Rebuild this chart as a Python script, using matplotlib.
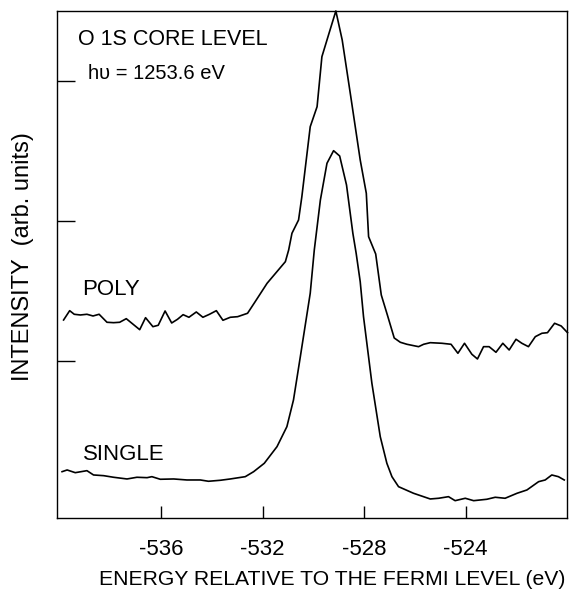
import matplotlib.pyplot as plt

# O 1s core level XPS spectra
poly_energy = [-539.84, -539.60, -539.42, -539.18, -538.92, -538.68, -538.44, -538.13,
               -537.87, -537.63, -537.37, -537.10, -536.84, -536.61, -536.32, -536.11,
               -535.84, -535.58, -535.35, -535.13, -534.90, -534.61, -534.35, -534.09,
               -533.82, -533.56, -533.27, -532.98, -532.59, -532.29, -531.82, -531.10,
               -530.97, -530.84, -530.58, -530.45, -530.12, -529.85, -529.66, -529.36,
               -529.11, -528.86, -528.52, -528.15, -527.91, -527.82, -527.54, -527.32,
               -527.08, -526.81, -526.57, -526.31, -525.85, -525.65, -525.39, -524.93,
               -524.57, -524.30, -524.04, -523.75, -523.53, -523.29, -523.07, -522.80,
               -522.53, -522.28, -522.01, -521.78, -521.52, -521.25, -520.99, -520.77,
               -520.49, -520.23, -519.98]
poly_intensity = [198, 207.3, 203.7, 203, 203.7, 202, 203.7, 195.7,
                  195.3, 195.7, 199.3, 193.7, 188.3, 200.3, 191.3, 192.7,
                  207, 195, 198.7, 203.3, 200.7, 206, 200.7, 203.7,
                  207.3, 197.7, 200.7, 201.3, 204.7, 216.3, 234.7, 256.3,
                  268, 284.7, 298, 321.3, 391.3, 411.3, 461.3, 486.3,
                  507, 478, 421, 358, 324.7, 281.3, 264, 223,
                  203, 180, 175.7, 173.7, 171.3, 173.7, 175.3, 174.7,
                  173.7, 164.7, 174.7, 163.7, 159, 171.3, 171.3, 165.7,
                  174.7, 168, 178.7, 174.7, 171.3, 181.3, 184.7, 185.3,
                  194.7, 192, 185.3]

single_energy = [-539.90, -539.70, -539.38, -538.92, -538.66, -538.26, -537.87, -537.34,
                 -536.95, -536.55, -536.36, -536.03, -535.50, -534.98, -534.45, -534.13,
                 -533.66, -533.27, -532.68, -532.35, -531.93, -531.43, -531.04, -530.78,
                 -530.51, -530.12, -529.96, -529.72, -529.46, -529.20, -528.96, -528.69,
                 -528.44, -528.31, -528.15, -528.02, -527.69, -527.36, -527.10, -526.90,
                 -526.64, -526.05, -525.39, -525.06, -524.67, -524.41, -524.01, -523.68,
                 -523.16, -522.83, -522.44, -521.97, -521.58, -521.12, -520.86, -520.60,
                 -520.34, -520.11]
single_intensity = [46.3, 48, 45.3, 47.3, 43, 42.3, 40.7, 39,
                    40.7, 40.3, 41.3, 38.7, 39, 38, 38, 36.7,
                    37.7, 39, 41.3, 46.3, 54.7, 71.3, 91.3, 118,
                    161.3, 224.7, 268, 318, 354.7, 367.3, 362, 333,
                    284.7, 264.7, 236.3, 201.3, 134.7, 81.3, 54.7, 41.3,
                    31.3, 24.7, 19, 19.7, 21.3, 17.3, 19.7, 17.3,
                    18.7, 20.7, 19.7, 24.7, 28, 36.3, 38, 43,
                    41.3, 38]

x_ticks = [-536, -532, -528, -524]
y_ticks = [157, 297, 437]

plt.rcParams['font.family'] = ['Liberation Sans', 'DejaVu Sans']

fig = plt.figure(figsize=(5.78, 5.94), dpi=100)
ax = fig.add_axes([0.0986, 0.128, 0.8824, 0.8535])

ax.plot(poly_energy, poly_intensity, color='black', lw=1.2, clip_on=False)
ax.plot(single_energy, single_intensity, color='black', lw=1.2, clip_on=False)

ax.set_xlim(-540.1, -520.0)
ax.set_ylim(0, 507)

ax.set_xticks(x_ticks)
ax.set_xticklabels([str(t) for t in x_ticks], fontsize=16)
ax.tick_params(axis='x', direction='in', length=8.6, width=1, pad=15)
ax.set_yticks(y_ticks)
ax.set_yticklabels([])
ax.tick_params(axis='y', direction='in', length=13, width=1)
for s in ax.spines.values():
    s.set_linewidth(1)

ax.text(0.042, 0.944, "O 1S CORE LEVEL", transform=ax.transAxes, fontsize=15.5, va='center')
ax.text(0.06, 0.876, "h\u03c5 = 1253.6 eV", transform=ax.transAxes, fontsize=14.5, va='center')
ax.text(0.05, 0.451, "POLY", transform=ax.transAxes, fontsize=16, va='center')
ax.text(0.05, 0.126, "SINGLE", transform=ax.transAxes, fontsize=16, va='center')

ax.set_ylabel("INTENSITY  (arb. units)", fontsize=17)
ax.yaxis.set_label_coords(-0.046, 0.515)
ax.set_xlabel("ENERGY RELATIVE TO THE FERMI LEVEL (eV)", fontsize=15.2)
ax.xaxis.set_label_coords(0.54, -0.102)

plt.savefig("out.png", dpi=100)
